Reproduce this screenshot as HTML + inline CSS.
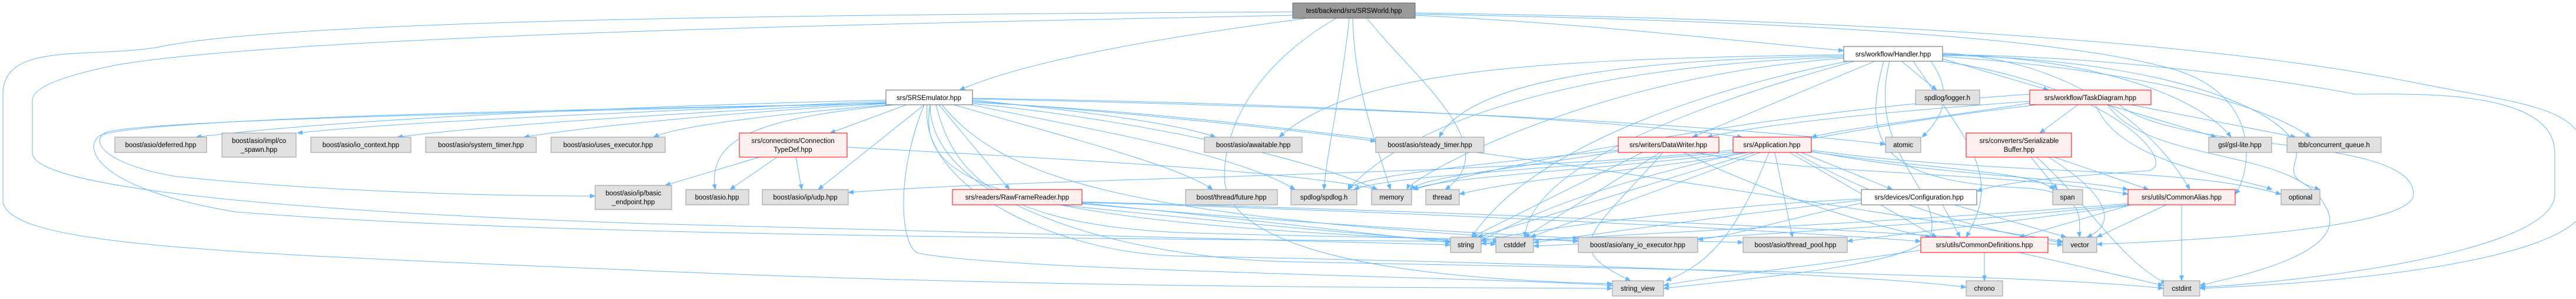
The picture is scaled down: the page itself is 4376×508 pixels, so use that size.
<!DOCTYPE html>
<html><head><meta charset="utf-8"><style>
html,body{margin:0;padding:0;background:#fff;width:4376px;height:508px;overflow:hidden}
svg{display:block}
text{font-family:"Liberation Sans",Arial,sans-serif;font-size:11.5px;fill:#000}
.e{fill:none;stroke:#63b8ff;stroke-width:1}
.g{fill:#e0e0e0;stroke:#999}
.r{fill:#fff0f0;stroke:#ff0000}
.w{fill:#fff;stroke:#666}
.d{fill:#999;stroke:#666}
</style></head><body>
<svg width="4376" height="508" viewBox="0 0 4376 508">
<defs><marker id="a" markerWidth="10" markerHeight="8" refX="9" refY="4" orient="auto" markerUnits="userSpaceOnUse"><path d="M0,0 L10,4 L0,8z" fill="#63b8ff"/></marker></defs>
<g class="e" marker-end="url(#a)">
<!-- SRSWorld -->
<path d="M2220,31 C2000,60 1750,100 1630,153"/>
<path d="M2404,26 C2700,40 2950,70 3132,86"/>
<path d="M2292,31 C2280,150 2255,250 2249,322"/>
<path d="M2298,31 C2300,150 2340,250 2362,322"/>
<path d="M2322,31 C2400,130 2560,250 2455,322"/>
<path d="M2196,20 C1500,25 500,30 270,80 C150,100 5,70 5,160 L5,340 C5,420 400,430 1100,460 C1800,490 2400,488 2739,490"/>
<path d="M2196,26 C1500,40 500,60 200,110 C100,130 55,150 55,170 L55,260 C55,320 500,360 1100,380 C1800,400 2300,410 2464,416"/>
<path d="M2404,22 C3000,30 3700,60 4100,140 C4300,180 4395,180 4395,280 L4395,340 C4395,440 4000,480 3737,490"/>
<path d="M2404,24 C3000,35 3500,60 3700,120 C3850,170 3820,300 3797,330"/>
<path d="M2270,31 C2150,100 2080,200 2080,300 C2080,380 2200,470 2739,482"/>
<!-- SRSEmulator -->
<path d="M1505,170 C1100,180 600,200 333,233"/>
<path d="M1505,172 C1100,190 700,205 505,226"/>
<path d="M1505,174 C1200,190 850,210 675,233"/>
<path d="M1505,176 C1250,190 1000,215 890,233"/>
<path d="M1510,178 C1300,195 1150,215 1110,233"/>
<path d="M1540,178 L1410,226"/>
<path d="M1520,178 C1300,200 1200,230 1215,322"/>
<path d="M1570,178 L1390,322"/>
<path d="M1595,178 L1715,322"/>
<path d="M1505,175 C1200,185 250,200 180,225 C150,240 180,280 300,300 C600,330 900,333 1011,333"/>
<path d="M1505,176 C1000,185 250,200 170,230 C140,250 160,320 400,360 C900,400 1800,405 2464,410"/>
<path d="M1652,170 C1850,190 2000,210 2065,233"/>
<path d="M1620,178 C1800,230 2000,280 2060,322"/>
<path d="M1650,178 C1850,220 2100,260 2200,322"/>
<path d="M1652,176 C1900,200 2200,260 2340,322"/>
<path d="M1652,172 C1900,190 2200,220 2337,240"/>
<path d="M1652,168 C2200,180 2800,200 3203,245"/>
<path d="M1652,167 C2200,175 2700,200 2960,233"/>
<path d="M1580,178 C1560,300 1650,380 2545,410"/>
<path d="M1570,178 C1520,300 1530,420 1560,430 C1700,460 2500,470 2739,485"/>
<path d="M1590,178 C1620,300 1700,380 2000,395 C2500,410 2900,408 2961,412"/>
<path d="M1600,178 C1700,300 1900,370 2681,410"/>
<path d="M1575,178 C1560,320 1800,430 2000,435 C2800,450 3200,470 3340,488"/>
<path d="M1580,178 C1580,340 1900,440 2200,445 C3000,460 3500,470 3675,490"/>
<path d="M1652,174 C2200,200 2800,300 3504,410"/>
<!-- ConnTypeDef -->
<path d="M1290,267 L1130,315"/>
<path d="M1320,267 L1240,322"/>
<path d="M1352,267 L1362,322"/>
<path d="M1439,250 C1800,270 2200,290 2340,322"/>
<!-- RawFrameReader -->
<path d="M1838,345 C2100,370 2350,400 2464,412"/>
<path d="M1800,348 C2100,380 2400,405 2541,415"/>
<path d="M1838,343 C2500,360 3200,390 3504,416"/>
<path d="M1838,344 C2400,360 3000,390 3263,410"/>
<path d="M1838,346 C2200,380 2500,395 2681,405"/>
<path d="M2944,255 C2500,300 1800,300 1441,327"/>
<!-- Handler -->
<path d="M3132,95 C2800,100 2500,130 2445,233"/>
<path d="M3132,93 C2600,100 2300,120 2173,233"/>
<path d="M3132,97 C2700,110 2400,200 2290,322"/>
<path d="M3132,99 C2700,130 2400,300 2390,322"/>
<path d="M3140,104 C2900,150 2600,250 2500,403"/>
<path d="M3150,104 C2800,200 2600,300 2590,403"/>
<path d="M3185,104 L2875,233"/>
<path d="M3230,104 L3290,153"/>
<path d="M3300,100 L3480,153"/>
<path d="M3280,104 C3320,160 3300,200 3265,233"/>
<path d="M3200,104 C3160,250 3200,310 3450,320 C3550,330 3530,380 3533,403"/>
<path d="M3300,90 C3500,100 3650,200 3720,322"/>
<path d="M3300,92 C3600,100 3750,180 3790,233"/>
<path d="M3300,96 C3650,120 3850,180 3925,233"/>
<path d="M3300,94 C3700,100 3920,200 3900,270 C3890,300 3900,310 3941,322"/>
<path d="M3300,93 C3600,95 3900,140 4000,160 C4100,160 4340,150 4340,260 L4340,330 C4340,430 3900,480 3737,488"/>
<path d="M3250,104 C3350,250 3400,300 3340,403"/>
<path d="M3300,104 C3600,150 3700,280 3650,290 C3500,300 3400,310 3358,325"/>
<path d="M3210,104 C3170,260 3300,320 3280,400 C3250,450 3000,470 2826,490"/>
<!-- TaskDiagram -->
<path d="M3448,175 C3300,200 3150,215 3077,233"/>
<path d="M3448,172 C3200,190 3000,210 2900,233"/>
<path d="M3530,178 L3465,226"/>
<path d="M3580,178 L3765,233"/>
<path d="M3620,178 L3900,233"/>
<path d="M3560,178 C3600,280 3800,300 3860,322"/>
<path d="M3580,178 C3650,280 3900,250 3950,350 C4000,430 3800,470 3737,485"/>
<path d="M3600,178 C3700,260 4100,230 4100,330 C4100,390 3700,410 3562,415"/>
<path d="M3448,160 C3000,190 2600,270 2400,322"/>
<path d="M3460,178 C3100,220 2700,300 2516,410"/>
<!-- SerializableBuffer -->
<path d="M3450,267 L3495,322"/>
<path d="M3490,267 L3650,322"/>
<path d="M3480,267 C3580,330 3600,380 3545,403"/>
<path d="M3460,267 C3560,360 3600,440 3680,482"/>
<!-- DataWriter -->
<path d="M2749,255 C2500,280 2300,300 2290,322"/>
<path d="M2749,257 C2550,290 2420,300 2395,322"/>
<path d="M2790,259 L2500,403"/>
<path d="M2820,259 L2590,403"/>
<path d="M2825,259 C2700,400 2650,420 2770,477"/>
<path d="M2880,259 C3100,300 3400,290 3615,330"/>
<path d="M2860,259 C3000,330 3200,390 3280,403"/>
<!-- Application -->
<path d="M2944,258 C2600,290 2350,300 2300,322"/>
<path d="M2960,259 C2700,290 2450,300 2400,322"/>
<path d="M2970,259 C2800,290 2600,300 2479,330"/>
<path d="M2980,259 L2510,403"/>
<path d="M2990,259 L2600,403"/>
<path d="M3015,259 L3045,403"/>
<path d="M3005,259 C2950,400 2900,450 2830,477"/>
<path d="M3060,259 L3215,322"/>
<path d="M3077,257 C3300,300 3500,300 3615,322"/>
<path d="M3040,259 L3290,403"/>
<path d="M3077,255 C3400,300 3700,280 3875,330"/>
<path d="M3077,258 C3300,290 3450,290 3490,322"/>
<path d="M3050,259 C3200,350 3400,400 3504,412"/>
<!-- Configuration -->
<path d="M3162,338 C2900,350 2600,390 2516,410"/>
<path d="M3162,340 C2900,370 2700,400 2605,412"/>
<path d="M3300,348 L3330,403"/>
<path d="M3320,348 L3510,403"/>
<path d="M3162,345 C3000,380 2950,400 2884,407"/>
<!-- CommonAlias -->
<path d="M3706,348 L3706,477"/>
<path d="M3680,348 L3562,403"/>
<path d="M3620,348 L3430,403"/>
<path d="M3615,346 C3200,380 2700,400 2516,414"/>
<path d="M3615,348 C3200,390 2800,410 2605,418"/>
<path d="M3615,349 C3400,380 3200,400 3138,410"/>
<!-- CommonDefinitions -->
<path d="M3371,429 L3371,477"/>
<path d="M3430,429 L3675,485"/>
<path d="M3263,425 C3100,450 2900,470 2826,485"/>
</g>
<!-- nodes -->
<g>
<rect class="d" x="2196" y="5" width="208" height="26"/><text x="2300" y="22" text-anchor="middle">test/backend/srs/SRSWorld.hpp</text>
<rect class="w" x="1505" y="153" width="147" height="25"/><text x="1578" y="170" text-anchor="middle">srs/SRSEmulator.hpp</text>
<rect class="w" x="3132" y="79" width="168" height="25"/><text x="3216" y="96" text-anchor="middle">srs/workflow/Handler.hpp</text>
<rect class="g" x="195" y="233" width="156" height="26"/><text x="273" y="250" text-anchor="middle">boost/asio/deferred.hpp</text>
<rect class="g" x="377" y="226" width="126" height="41"/><text x="440" y="243" text-anchor="middle">boost/asio/impl/co</text><text x="440" y="258" text-anchor="middle">_spawn.hpp</text>
<rect class="g" x="528" y="233" width="170" height="26"/><text x="613" y="250" text-anchor="middle">boost/asio/io_context.hpp</text>
<rect class="g" x="723" y="233" width="188" height="26"/><text x="817" y="250" text-anchor="middle">boost/asio/system_timer.hpp</text>
<rect class="g" x="936" y="233" width="194" height="26"/><text x="1033" y="250" text-anchor="middle">boost/asio/uses_executor.hpp</text>
<rect class="r" x="1256" y="226" width="183" height="41"/><text x="1347" y="243" text-anchor="middle">srs/connections/Connection</text><text x="1347" y="258" text-anchor="middle">TypeDef.hpp</text>
<rect class="g" x="2046" y="233" width="166" height="26"/><text x="2129" y="250" text-anchor="middle">boost/asio/awaitable.hpp</text>
<rect class="g" x="2337" y="233" width="184" height="26"/><text x="2429" y="250" text-anchor="middle">boost/asio/steady_timer.hpp</text>
<rect class="r" x="2749" y="233" width="171" height="26"/><text x="2834" y="250" text-anchor="middle">srs/writers/DataWriter.hpp</text>
<rect class="r" x="2944" y="233" width="133" height="26"/><text x="3010" y="250" text-anchor="middle">srs/Application.hpp</text>
<rect class="g" x="3203" y="233" width="60" height="26"/><text x="3233" y="250" text-anchor="middle">atomic</text>
<rect class="g" x="3254" y="153" width="109" height="25"/><text x="3308" y="170" text-anchor="middle">spdlog/logger.h</text>
<rect class="r" x="3448" y="153" width="206" height="25"/><text x="3551" y="170" text-anchor="middle">srs/workflow/TaskDiagram.hpp</text>
<rect class="r" x="3340" y="226" width="179" height="41"/><text x="3430" y="243" text-anchor="middle">srs/converters/Serializable</text><text x="3430" y="258" text-anchor="middle">Buffer.hpp</text>
<rect class="g" x="3752" y="233" width="107" height="26"/><text x="3805" y="250" text-anchor="middle">gsl/gsl-lite.hpp</text>
<rect class="g" x="3885" y="233" width="160" height="26"/><text x="3965" y="250" text-anchor="middle">tbb/concurrent_queue.h</text>
<rect class="g" x="1011" y="315" width="130" height="41"/><text x="1076" y="332" text-anchor="middle">boost/asio/ip/basic</text><text x="1076" y="347" text-anchor="middle">_endpoint.hpp</text>
<rect class="g" x="1165" y="322" width="107" height="26"/><text x="1218" y="339" text-anchor="middle">boost/asio.hpp</text>
<rect class="g" x="1295" y="322" width="146" height="26"/><text x="1368" y="339" text-anchor="middle">boost/asio/ip/udp.hpp</text>
<rect class="r" x="1618" y="322" width="220" height="26"/><text x="1728" y="339" text-anchor="middle">srs/readers/RawFrameReader.hpp</text>
<rect class="g" x="2014" y="322" width="156" height="26"/><text x="2092" y="339" text-anchor="middle">boost/thread/future.hpp</text>
<rect class="g" x="2193" y="322" width="112" height="26"/><text x="2249" y="339" text-anchor="middle">spdlog/spdlog.h</text>
<rect class="g" x="2330" y="322" width="68" height="26"/><text x="2364" y="339" text-anchor="middle">memory</text>
<rect class="g" x="2422" y="322" width="57" height="26"/><text x="2450" y="339" text-anchor="middle">thread</text>
<rect class="w" x="3162" y="322" width="196" height="26"/><text x="3260" y="339" text-anchor="middle">srs/devices/Configuration.hpp</text>
<rect class="g" x="3487" y="322" width="51" height="26"/><text x="3512" y="339" text-anchor="middle">span</text>
<rect class="r" x="3615" y="322" width="182" height="26"/><text x="3706" y="339" text-anchor="middle">srs/utils/CommonAlias.hpp</text>
<rect class="g" x="3875" y="322" width="66" height="26"/><text x="3908" y="339" text-anchor="middle">optional</text>
<rect class="g" x="2464" y="403" width="52" height="26"/><text x="2490" y="420" text-anchor="middle">string</text>
<rect class="g" x="2541" y="403" width="64" height="26"/><text x="2573" y="420" text-anchor="middle">cstddef</text>
<rect class="g" x="2681" y="403" width="203" height="26"/><text x="2782" y="420" text-anchor="middle">boost/asio/any_io_executor.hpp</text>
<rect class="g" x="2961" y="403" width="177" height="26"/><text x="3050" y="420" text-anchor="middle">boost/asio/thread_pool.hpp</text>
<rect class="r" x="3263" y="403" width="216" height="26"/><text x="3371" y="420" text-anchor="middle">srs/utils/CommonDefinitions.hpp</text>
<rect class="g" x="3504" y="403" width="58" height="26"/><text x="3533" y="420" text-anchor="middle">vector</text>
<rect class="g" x="2739" y="477" width="87" height="26"/><text x="2782" y="494" text-anchor="middle">string_view</text>
<rect class="g" x="3340" y="477" width="62" height="26"/><text x="3371" y="494" text-anchor="middle">chrono</text>
<rect class="g" x="3675" y="477" width="62" height="26"/><text x="3706" y="494" text-anchor="middle">cstdint</text>
</g>
</svg>
</body></html>
